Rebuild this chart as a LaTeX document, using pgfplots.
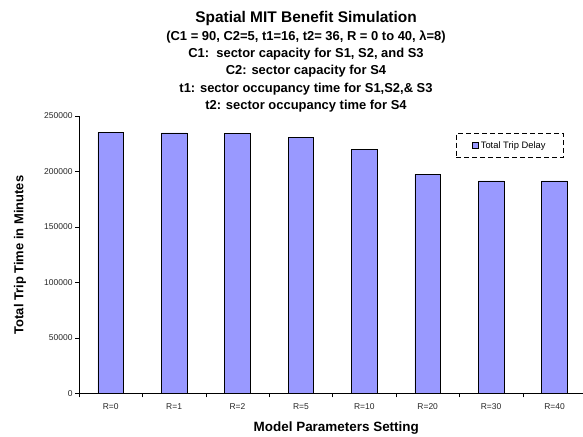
\documentclass[border=0pt]{standalone}
\usepackage{fontspec}
\setmainfont{Liberation Sans}
\usepackage{pgfplots}
\pgfplotsset{compat=1.18}
\definecolor{barcol}{RGB}{153,153,255}
\begin{document}
\begin{tikzpicture}[x=1bp,y=1bp]
\useasboundingbox (0,0) rectangle (583,437);
\begin{axis}[
  at={(79bp,43.7bp)}, anchor=south west, scale only axis,
  width=507.2bp, height=277.3bp,
  xmin=-0.5, xmax=7.5, ymin=0, ymax=250000,
  axis x line=bottom, axis y line=left,
  axis line style={-, line width=0.8pt, black},
  ybar, bar width=25.7bp,
  xtick={-0.5,0.5,1.5,2.5,3.5,4.5,5.5,6.5,7.5}, x tick label as interval,
  xticklabels={R=0,R=1,R=2,R=5,R=10,R=20,R=30,R=40},
  ytick={0,50000,100000,150000,200000,250000},
  scaled y ticks=false,
  /pgf/number format/assume math mode=true,
  /pgf/number format/fixed,
  /pgf/number format/1000 sep={},
  tick align=outside, major tick length=4bp,
  tick style={black, line width=0.6pt},
  ticklabel style={font=\fontsize{8.5}{10}\selectfont, text=black!85},
  yticklabel style={xshift=1bp},
  xticklabel style={yshift=-2.5bp},
  legend style={at={(0.956,0.939)}, anchor=north east, draw=black,
    dash pattern=on 5bp off 3bp, line width=0.7pt,
    inner xsep=16bp, inner ysep=6bp,
    font=\fontsize{9.4}{11}\selectfont},
  legend image code/.code={\draw[solid, fill=barcol, draw=black, line width=0.5pt] (0bp,-3bp) rectangle (6bp,3bp);},
]
\addplot[fill=barcol, draw=black, line width=0.6pt] coordinates {
  (0,235300) (1,234700) (2,234500) (3,231000) (4,220000) (5,197400) (6,191400) (7,191400)
};
\addlegendentry{Total Trip Delay}
\end{axis}
\node[anchor=base, font=\bfseries\fontsize{15.5}{18}\selectfont] at (306,414) {Spatial MIT Benefit Simulation};
\node[anchor=base, font=\bfseries\fontsize{13}{15}\selectfont] at (306,396.5) {(C1 = 90, C2=5, t1=16, t2= 36, R = 0 to 40, λ=8)};
\node[anchor=base, font=\bfseries\fontsize{13}{15}\selectfont] at (306,379.3) {C1:\ \ sector capacity for S1, S2, and S3};
\node[anchor=base, font=\bfseries\fontsize{13}{15}\selectfont] at (306,362.1) {C2: sector capacity for S4};
\node[anchor=base, font=\bfseries\fontsize{13}{15}\selectfont] at (306,344.9) {t1: sector occupancy time for S1,S2,\& S3};
\node[anchor=base, font=\bfseries\fontsize{13}{15}\selectfont] at (306,327.7) {t2: sector occupancy time for S4};
\node[rotate=90, font=\bfseries\fontsize{13}{15}\selectfont] at (20,182) {Total Trip Time in Minutes};
\node[anchor=base, font=\bfseries\fontsize{13.5}{16}\selectfont] at (336.3,5) {Model Parameters Setting};
\end{tikzpicture}
\end{document}
